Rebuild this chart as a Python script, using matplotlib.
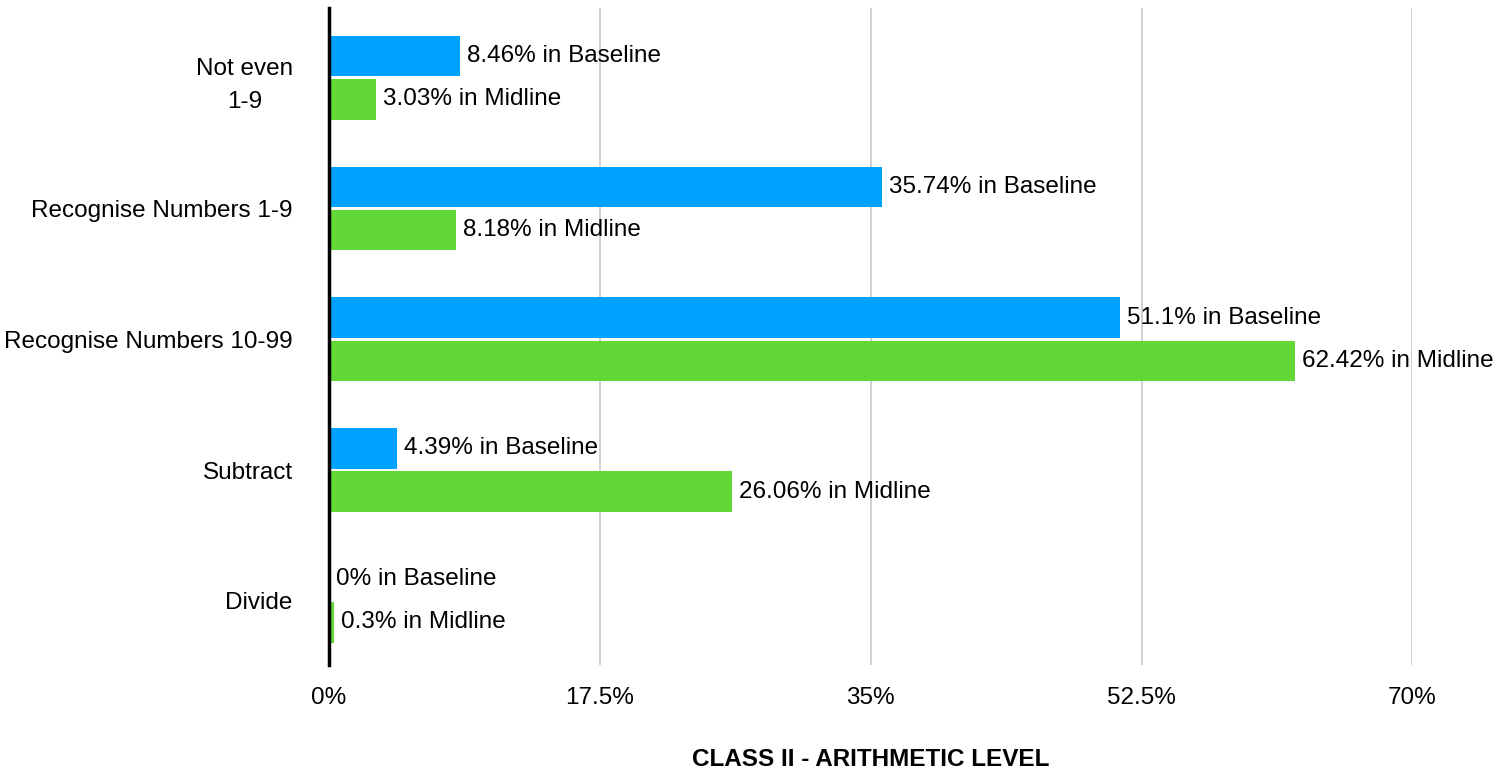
import matplotlib.pyplot as plt
import numpy as np

categories = ['Not even\n1-9', 'Recognise Numbers 1-9', 'Recognise Numbers 10-99', 'Subtract', 'Divide']
baseline = [8.46, 35.74, 51.1, 4.39, 0.0]
midline = [3.03, 8.18, 62.42, 26.06, 0.3]
baseline_labels = ['8.46% in Baseline', '35.74% in Baseline', '51.1% in Baseline', '4.39% in Baseline', '0% in Baseline']
midline_labels = ['3.03% in Midline', '8.18% in Midline', '62.42% in Midline', '26.06% in Midline', '0.3% in Midline']
xticks = [0, 17.5, 35, 52.5, 70]
xtick_labels = ['0%', '17.5%', '35%', '52.5%', '70%']

plt.rcParams['font.family'] = ['Liberation Sans', 'DejaVu Sans']
fs = 17.5

fig = plt.figure(figsize=(15.09, 7.75), dpi=100)
ax = fig.add_axes([0.218, 0.142, 0.718, 0.848])

y = np.arange(len(categories))
h = 0.31
off = 0.165
b1 = ax.barh(y - off, baseline, height=h, color='#00A2FF', zorder=2)
b2 = ax.barh(y + off, midline, height=h, color='#61D836', zorder=2)
ax.bar_label(b1, labels=baseline_labels, padding=5, fontsize=fs, zorder=3)
ax.bar_label(b2, labels=midline_labels, padding=5, fontsize=fs, zorder=3)

ax.set_xlim(0, 70)
ax.set_ylim(4.49, -0.535)
ax.set_xticks(xticks)
ax.set_xticklabels(xtick_labels, fontsize=fs)
ax.set_yticks(y)
ax.set_yticklabels(categories, fontsize=fs, ha='right', multialignment='center', linespacing=1.65)
ax.tick_params(axis='y', length=0, pad=26)
ax.tick_params(axis='x', length=0, pad=16)
ax.xaxis.grid(True, color='#c8c8c8', linewidth=1.2, zorder=0)
ax.set_axisbelow(True)
for s in ['top', 'right', 'bottom']:
    ax.spines[s].set_visible(False)
ax.spines['left'].set_linewidth(2.5)
ax.spines['left'].set_color('black')
ax.spines['left'].set_zorder(4)

ax.set_xlabel('CLASS II - ARITHMETIC LEVEL', fontsize=fs, fontweight='bold', labelpad=28)

fig.savefig('out.png', dpi=100)
